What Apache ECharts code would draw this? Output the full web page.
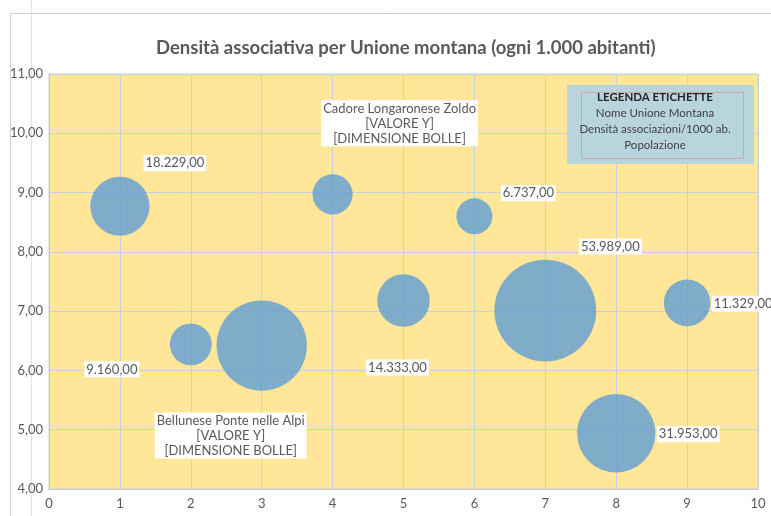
<!DOCTYPE html>
<html>
<head>
<meta charset="utf-8">
<script src="https://cdn.jsdelivr.net/npm/echarts@6/dist/echarts.min.js"></script>
<style>
  html, body { margin: 0; padding: 0; background: #fff; }
  #main { width: 771px; height: 516px; }
</style>
</head>
<body>
<div id="main"></div>
<script>
// dati
var posizioni = [1, 2, 3, 4, 5, 6, 7, 8, 9];
var densita = [8.77, 6.44, 6.42, 8.97, 7.18, 8.60, 7.01, 4.94, 7.14];
var popolazione = [18229, 9160, 42500, 8400, 14333, 6737, 53989, 31953, 11329];
var nomi = ['', '', 'Bellunese Ponte nelle Alpi', 'Cadore Longaronese Zoldo', '', '', '', '', ''];
var yTicks = [4, 5, 6, 7, 8, 9, 10, 11];
var xTicks = [0, 1, 2, 3, 4, 5, 6, 7, 8, 9, 10];

// spostamento etichette (come nel foglio excel)
var spostamenti = [[55, -43], [-79, 25], [-31, 90], [67, -71], [-6, 67], [54, -23], [65, -64], [72, 1], [56, 1]];

var FONT = 'Lato';

function formatIt(v) {
    var s = v.toFixed(2).split('.');
    return s[0].replace(/\B(?=(\d{3})+(?!\d))/g, '.') + ',' + s[1];
}

var punti = posizioni.map(function (x, i) {
    return [x, densita[i], popolazione[i]];
});

var myChart = echarts.init(document.getElementById('main'));

var option = {
    animation: false,
    backgroundColor: '#fff',
    title: {
        text: 'Densità associativa per Unione montana (ogni 1.000 abitanti)',
        left: 151,
        top: 34,
        textStyle: { fontFamily: FONT, fontSize: 18.5, fontWeight: 'bold', color: '#595959' }
    },
    grid: {
        left: 49, right: 13, top: 74, bottom: 27,
        show: true,
        backgroundColor: '#FFE699',
        borderColor: '#d0d0d0',
        borderWidth: 1
    },
    xAxis: {
        type: 'value',
        min: xTicks[0], max: xTicks[xTicks.length - 1], interval: 1,
        axisLine: { show: true, lineStyle: { color: '#c8c8c8' } },
        axisTick: { show: false },
        axisLabel: { color: '#595959', fontFamily: FONT, fontSize: 13, margin: 8 },
        splitLine: { lineStyle: { color: '#c3d2de', width: 1 } }
    },
    yAxis: {
        type: 'value',
        min: yTicks[0], max: yTicks[yTicks.length - 1], interval: 1,
        axisLine: { show: true, lineStyle: { color: '#c8c8c8' } },
        axisTick: { show: false },
        axisLabel: {
            color: '#595959', fontFamily: FONT, fontSize: 13, margin: 6,
            formatter: function (v) { return v.toFixed(2).replace('.', ','); }
        },
        splitLine: { lineStyle: { color: '#c3d2de', width: 1 } }
    },
    series: [{
        type: 'scatter',
        data: punti,
        symbolSize: function (v) { return 0.438 * Math.sqrt(v[2]); },
        itemStyle: { color: 'rgba(91,155,213,0.78)', opacity: 1 },
        label: {
            show: true,
            position: 'inside',
            color: '#595959',
            fontFamily: FONT,
            fontSize: 13,
            lineHeight: 15,
            align: 'center',
            backgroundColor: '#fff',
            padding: [1, 2, 0, 2],
            formatter: function (p) {
                var i = p.dataIndex;
                return nomi[i] ? nomi[i] + '\n[VALORE Y]\n[DIMENSIONE BOLLE]' : formatIt(popolazione[i]);
            }
        },
        labelLayout: function (p) {
            var o = spostamenti[p.dataIndex];
            return { dx: o[0], dy: o[1], hideOverlap: false };
        }
    }],
    graphic: [
        { type: 'line', shape: { x1: 31.5, y1: 0, x2: 31.5, y2: 516 }, style: { stroke: '#e4e4e4', lineWidth: 1 }, z: -1 },
        { type: 'rect', shape: { x: 10.5, y: 13.5, width: 800, height: 600 }, style: { fill: 'none', stroke: '#d0d0d0', lineWidth: 1 }, z: -1 },
        { type: 'rect', shape: { x: 567, y: 85, width: 187, height: 79 }, style: { fill: '#B8D5DE' }, z: 10 },
        { type: 'rect', shape: { x: 581.5, y: 92.5, width: 162, height: 66 }, style: { fill: 'none', stroke: '#c9a9a9', lineWidth: 1 }, z: 11 },
        { type: 'text', x: 655, y: 97, style: { text: 'LEGENDA ETICHETTE', align: 'center', verticalAlign: 'middle', fill: '#262626', fontFamily: FONT, fontSize: 11.5, fontWeight: 'bold' }, z: 12 },
        { type: 'text', x: 655, y: 113, style: { text: 'Nome Unione Montana', align: 'center', verticalAlign: 'middle', fill: '#404040', fontFamily: FONT, fontSize: 11.5 }, z: 12 },
        { type: 'text', x: 655, y: 129, style: { text: 'Densità associazioni/1000 ab.', align: 'center', verticalAlign: 'middle', fill: '#404040', fontFamily: FONT, fontSize: 11.5 }, z: 12 },
        { type: 'text', x: 655, y: 145, style: { text: 'Popolazione', align: 'center', verticalAlign: 'middle', fill: '#404040', fontFamily: FONT, fontSize: 11.5 }, z: 12 }
    ]
};

myChart.setOption(option);
</script>
</body>
</html>
